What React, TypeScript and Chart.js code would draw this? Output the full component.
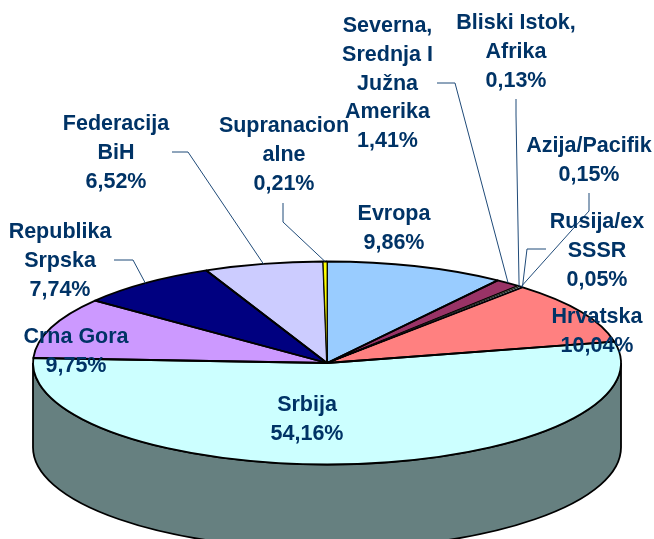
import React, { useEffect, useRef } from "react";
import { Chart, registerables } from "chart.js";

Chart.register(...registerables);

const categories = ["Evropa", "Severna, Srednja I Južna Amerika", "Bliski Istok, Afrika", "Azija/Pacifik", "Rusija/ex SSSR", "Hrvatska", "Srbija", "Crna Gora", "Republika Srpska", "Federacija BiH", "Supranacionalne"];
const shares = [9.86, 1.41, 0.13, 0.15, 0.05, 10.04, 54.16, 9.75, 7.74, 6.52, 0.21];
const sliceColors = ["#99CCFF", "#993366", "#FFFFCC", "#CCFFFF", "#660066", "#FF8080", "#CCFFFF", "#CC99FF", "#000080", "#CCCCFF", "#FFFF00"];
const sideColors = ["#4D6680", "#4D1A33", "#808066", "#668080", "#330033", "#804040", "#668080", "#664D80", "#000040", "#666680", "#808000"];
const labelLines = [["Evropa"], ["Severna,", "Srednja I", "Južna", "Amerika"], ["Bliski Istok,", "Afrika"], ["Azija/Pacifik"], ["Rusija/ex", "SSSR"], ["Hrvatska"], ["Srbija"], ["Crna Gora"], ["Republika", "Srpska"], ["Federacija", "BiH"], ["Supranacion", "alne"]];

// layout: centre x and first-line centre y of each label
const labelAnchors = [[394, 214], [387.5, 26], [516, 23], [589, 146], [597, 222], [597, 317], [307, 405], [76, 337], [60, 232], [116, 124], [284, 126]];
// layout: the fixed part of each leader line (the end on the rim comes from the slice)
const leaders: (number[][] | null)[] = [null, [[437, 83], [455, 83]], [[516, 99], [516, 115]], [[589, 193], [589, 211]], [[546, 249], [527, 249]], null, null, null, [[114, 260], [133, 260]], [[172, 152], [188, 152]], [[283, 203], [283, 222]]];

const CX = 327, CY = 363, RX = 294, RY = 101.5, DEPTH = 84.5;
const LINE_H = 28.8;
const FONT = 'bold 21.5px "Liberation Sans", Arial, sans-serif';
const TEXT = "#003366";
const THIN_SHARE = 1;

const wedge = (ctx: any, a: any) => {
  ctx.beginPath();
  ctx.moveTo(CX, CY);
  ctx.ellipse(CX, CY, RX, RY, 0, a.startAngle, a.endAngle);
  ctx.closePath();
};

const pie3d = {
  id: "pie3d",
  beforeDatasetsDraw(chart: any) {
    const { ctx } = chart;
    const arcs = chart.getDatasetMeta(0).data;
    // extruded wall, only where the rim faces the viewer
    arcs.forEach((a: any, i: number) => {
      const s = Math.max(a.startAngle, 0), e = Math.min(a.endAngle, Math.PI);
      if (e <= s) return;
      ctx.save();
      ctx.beginPath();
      ctx.ellipse(CX, CY, RX, RY, 0, s, e);
      ctx.ellipse(CX, CY + DEPTH, RX, RY, 0, e, s, true);
      ctx.closePath();
      ctx.fillStyle = sideColors[i];
      ctx.fill();
      ctx.strokeStyle = "#000";
      ctx.lineWidth = 1.8;
      ctx.stroke();
      ctx.restore();
    });
    // squash the library's circular pie into the top face
    const a0 = arcs[0];
    const R = a0.outerRadius;
    ctx.save();
    ctx.translate(CX, CY);
    ctx.scale(RX / R, RY / R);
    ctx.translate(-a0.x, -a0.y);
  },
  afterDatasetsDraw(chart: any) {
    const { ctx } = chart;
    ctx.restore();
    const arcs = chart.getDatasetMeta(0).data;
    ctx.save();
    ctx.strokeStyle = "#000";
    ctx.lineJoin = "round";
    ctx.lineWidth = 1.8;
    arcs.forEach((a: any, i: number) => {
      if (shares[i] < THIN_SHARE) return;
      wedge(ctx, a);
      ctx.stroke();
    });
    // very narrow slices keep a hairline so their colour stays visible
    arcs.forEach((a: any, i: number) => {
      if (shares[i] >= THIN_SHARE) return;
      wedge(ctx, a);
      ctx.fillStyle = sliceColors[i];
      ctx.fill();
      ctx.lineWidth = 0.8;
      ctx.stroke();
      ctx.beginPath();
      ctx.ellipse(CX, CY, RX, RY, 0, a.startAngle, a.endAngle);
      ctx.lineWidth = 1.8;
      ctx.stroke();
    });
    ctx.restore();
  },
  afterDraw(chart: any) {
    const { ctx } = chart;
    const arcs = chart.getDatasetMeta(0).data;
    ctx.save();
    ctx.strokeStyle = "#1F4A78";
    ctx.lineWidth = 1;
    arcs.forEach((a: any, i: number) => {
      const pts = leaders[i];
      if (!pts) return;
      const m = (a.startAngle + a.endAngle) / 2;
      ctx.beginPath();
      pts.forEach((p, k) => (k ? ctx.lineTo(p[0], p[1]) : ctx.moveTo(p[0], p[1])));
      ctx.lineTo(CX + RX * Math.cos(m), CY + RY * Math.sin(m));
      ctx.stroke();
    });
    ctx.fillStyle = TEXT;
    ctx.font = FONT;
    ctx.textAlign = "center";
    ctx.textBaseline = "middle";
    labelLines.forEach((lines, i) => {
      const all = [...lines, shares[i].toFixed(2).replace(".", ",") + "%"];
      all.forEach((t, k) => ctx.fillText(t, labelAnchors[i][0], labelAnchors[i][1] + k * LINE_H));
    });
    ctx.restore();
  },
};

export default function App() {
  const ref = useRef<HTMLCanvasElement>(null);
  useEffect(() => {
    document.body.style.margin = "0";
    document.body.style.overflow = "hidden";
    const chart = new Chart(ref.current!, {
      type: "pie",
      data: {
        labels: categories,
        datasets: [{ data: shares, backgroundColor: sliceColors, borderWidth: 0, clip: false } as any],
      },
      options: {
        responsive: false,
        animation: false,
        layout: { padding: 0 },
        plugins: { legend: { display: false }, tooltip: { enabled: false } },
      },
      plugins: [pie3d],
    } as any);
    return () => chart.destroy();
  }, []);
  return <canvas ref={ref} width={654} height={539} style={{ display: "block", background: "#fff" }} />;
}
